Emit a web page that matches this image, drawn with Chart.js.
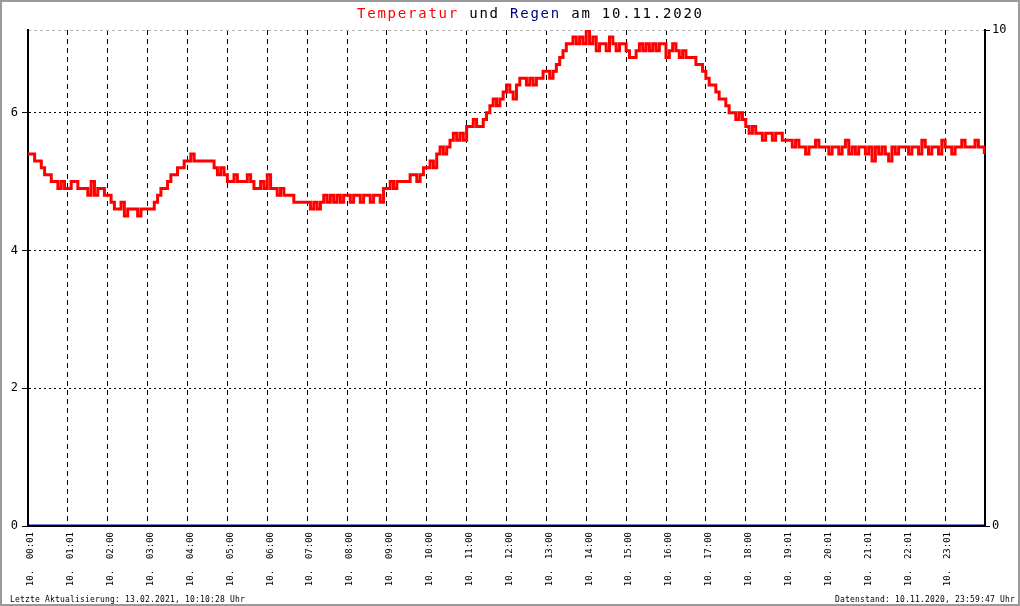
<!DOCTYPE html>
<html>
<head>
<meta charset="utf-8">
<title>Temperatur und Regen am 10.11.2020</title>
<script src="https://cdn.jsdelivr.net/npm/chart.js@4.4.1/dist/chart.umd.min.js"></script>
<style>
  body { margin: 0; background: #fff; }
  canvas { display: block; }
</style>
</head>
<body>
<canvas id="wetterChart" width="1020" height="606"></canvas>
<script>
// tick labels under each hour gridline
const hourLabels = ["00:01", "01:01", "02:00", "03:00", "04:00", "05:00", "06:00", "07:00",
  "08:00", "09:00", "10:00", "11:00", "12:00", "13:00", "14:00", "15:00", "16:00", "17:00",
  "18:00", "19:01", "20:01", "21:01", "22:01", "23:01"];

// temperature in tenths of a degree, one value every 5 minutes (one row per hour)
const tempTenths = [
  54, 54, 53, 53, 52, 51, 51, 50, 50, 49, 50, 49,
  49, 50, 50, 49, 49, 49, 48, 50, 48, 49, 49, 48,
  48, 47, 46, 46, 47, 45, 46, 46, 46, 45, 46, 46,
  46, 46, 47, 48, 49, 49, 50, 51, 51, 52, 52, 53,
  53, 54, 53, 53, 53, 53, 53, 53, 52, 51, 52, 51,
  50, 50, 51, 50, 50, 50, 51, 50, 49, 49, 50, 49,
  51, 49, 49, 48, 49, 48, 48, 48, 47, 47, 47, 47,
  47, 46, 47, 46, 47, 48, 47, 48, 47, 48, 47, 48,
  48, 47, 48, 48, 47, 48, 48, 47, 48, 48, 47, 49,
  49, 50, 49, 50, 50, 50, 50, 51, 51, 50, 51, 52,
  52, 53, 52, 54, 55, 54, 55, 56, 57, 56, 57, 56,
  58, 58, 59, 58, 58, 59, 60, 61, 62, 61, 62, 63,
  64, 63, 62, 64, 65, 65, 64, 65, 64, 65, 65, 66,
  66, 65, 66, 67, 68, 69, 70, 70, 71, 70, 71, 70,
  72, 70, 71, 69, 70, 70, 69, 71, 70, 69, 70, 70,
  69, 68, 68, 69, 70, 69, 70, 69, 70, 69, 70, 70,
  68, 69, 70, 69, 68, 69, 68, 68, 68, 67, 67, 66,
  65, 64, 64, 63, 62, 62, 61, 60, 60, 59, 60, 59,
  58, 57, 58, 57, 57, 56, 57, 57, 56, 57, 57, 56,
  56, 56, 55, 56, 55, 55, 54, 55, 55, 56, 55, 55,
  55, 54, 55, 55, 54, 55, 56, 54, 55, 54, 55, 55,
  54, 55, 53, 55, 54, 55, 54, 53, 55, 54, 55, 55,
  55, 54, 55, 55, 54, 56, 55, 54, 55, 55, 54, 56,
  55, 55, 54, 55, 55, 56, 55, 55, 55, 56, 55, 55,
  54
];

// rain in mm, hourly (nothing fell that day)
const rainHours = [0, 1, 2, 3, 4, 5, 6, 7, 8, 9, 10, 11, 12, 13, 14, 15, 16, 17, 18, 19, 20, 21, 22, 23, 24];
const rainMm = [0, 0, 0, 0, 0, 0, 0, 0, 0, 0, 0, 0, 0, 0, 0, 0, 0, 0, 0, 0, 0, 0, 0, 0, 0];

const leftTicks = [0, 2, 4, 6];
const rightTicks = [0, 10];

const titleParts = [
  { text: "Temperatur", color: "#ff0000" },
  { text: " und ", color: "#000000" },
  { text: "Regen", color: "#000080" },
  { text: " am 10.11.2020", color: "#000000" }
];
const footerLeft = "Letzte Aktualisierung: 13.02.2021, 10:10:28 Uhr";
const footerRight = "Datenstand: 10.11.2020, 23:59:47 Uhr";

// x in hours: every 5 minutes, the last reading at 23:59
const tempPoints = tempTenths.map((v, i) => ({
  x: i < 288 ? i * 5 / 60 : 1439 / 60,
  y: v / 10
}));
const rainPoints = rainHours.map((h, i) => ({ x: h, y: rainMm[i] }));

const clear = "rgba(0,0,0,0)";

// draw text with a fixed advance per character, like the bitmap font of the original
function monoText(ctx, str, x, y, advance) {
  for (let i = 0; i < str.length; i++) {
    ctx.fillText(str[i], x + i * advance, y);
  }
}

const decorPlugin = {
  id: "decor",
  afterDraw(chart) {
    const ctx = chart.ctx;
    ctx.save();
    // title
    ctx.font = "14px 'DejaVu Sans Mono'";
    ctx.textBaseline = "alphabetic";
    ctx.textAlign = "left";
    let x = 357;
    titleParts.forEach(p => {
      ctx.fillStyle = p.color;
      monoText(ctx, p.text, x, 18, 10.2);
      x += p.text.length * 10.2;
    });
    // footer lines
    ctx.fillStyle = "#000";
    ctx.font = "8px 'DejaVu Sans Mono'";
    monoText(ctx, footerLeft, 10, 602, 5);
    monoText(ctx, footerRight, 1015 - footerRight.length * 5, 602, 5);
    // frame around the picture
    ctx.strokeStyle = "#9a9a9a";
    ctx.lineWidth = 2;
    ctx.strokeRect(1, 1, 1018, 604);
    ctx.restore();
  }
};

new Chart(document.getElementById("wetterChart"), {
  type: "line",
  data: {
    datasets: [
      {
        label: "Regen",
        data: rainPoints,
        yAxisID: "y1",
        borderColor: "#0000b0",
        borderWidth: 3,
        pointRadius: 0
      },
      {
        label: "Temperatur",
        data: tempPoints,
        yAxisID: "y",
        borderColor: "#ff0000",
        borderWidth: 3,
        pointRadius: 0,
        stepped: true
      }
    ]
  },
  options: {
    responsive: false,
    animation: false,
    devicePixelRatio: 1,
    layout: { padding: { top: 30, left: 0, right: 0, bottom: 0 } },
    plugins: {
      legend: { display: false },
      tooltip: { enabled: false }
    },
    scales: {
      x: {
        type: "linear",
        min: 0,
        max: 24,
        afterFit: scale => { scale.height = 80; },
        border: { color: "#000", width: 2, z: 1, dash: [5, 4] },
        grid: {
          drawTicks: false,
          lineWidth: 1,
          color: c => (c.tick && (c.tick.value === 0 || c.tick.value === 24)) ? clear : "#000"
        },
        ticks: {
          stepSize: 1,
          autoSkip: false,
          minRotation: 90,
          maxRotation: 90,
          padding: 6,
          labelOffset: 3,
          color: "#000",
          font: { family: "DejaVu Sans Mono", size: 9 },
          callback: v => hourLabels[v] ? "10.  " + hourLabels[v] : ""
        }
      },
      y: {
        position: "left",
        min: 0,
        max: 7.2,
        afterFit: scale => { scale.width = 28; },
        afterBuildTicks: scale => { scale.ticks = leftTicks.map(v => ({ value: v })); },
        border: { color: "#000", width: 2, dash: [2, 3] },
        grid: {
          lineWidth: 1,
          tickLength: 6,
          tickColor: "#000",
          tickBorderDash: [],
          color: c => (c.tick && c.tick.value === 0) ? clear : "#000"
        },
        ticks: {
          padding: 4,
          color: "#000",
          font: { family: "DejaVu Sans Mono", size: 12 },
          callback: v => String(v)
        }
      },
      y1: {
        position: "right",
        min: 0,
        max: 10,
        afterFit: scale => { scale.width = 35; },
        afterBuildTicks: scale => { scale.ticks = rightTicks.map(v => ({ value: v })); },
        border: { color: "#000", width: 2, dash: [3, 3] },
        grid: {
          lineWidth: 1,
          tickLength: 5,
          tickColor: "#000",
          tickBorderDash: [],
          color: c => (c.tick && c.tick.value === 10) ? "#b4b4b4" : clear
        },
        ticks: {
          padding: 2,
          color: "#000",
          font: { family: "DejaVu Sans Mono", size: 12 },
          callback: v => String(v)
        }
      }
    }
  },
  plugins: [decorPlugin]
});
</script>
</body>
</html>
